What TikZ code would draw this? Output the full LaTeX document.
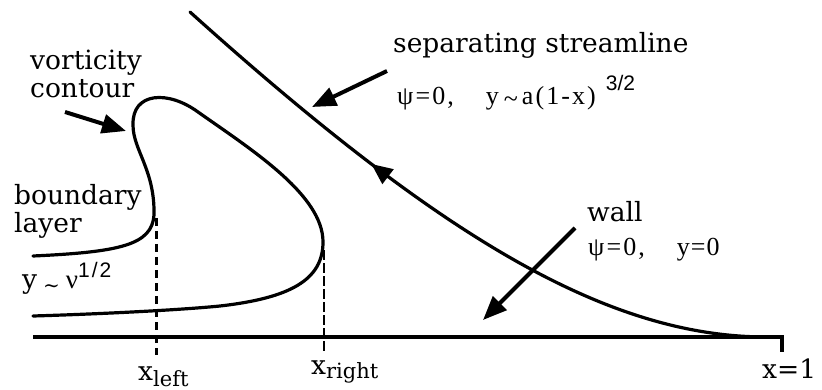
\documentclass[tikz,border=0pt]{standalone}
\usepackage{fontspec}
\setmainfont{DejaVu Serif}
\newfontfamily\fml[LetterSpace=8]{Liberation Serif}
\newfontfamily\supf{Liberation Sans}
\usetikzlibrary{arrows.meta,decorations.markings}
\begin{document}
\begin{tikzpicture}[x=1pt,y=-1pt,
  curve/.style={line width=3.2pt, line cap=round},
  ptr/.style={line width=4pt, -{Triangle[length=24pt,width=19pt]}},
  lbl/.style={inner sep=0pt, anchor=base west, font=\fontsize{26.5}{28}\selectfont},
  fm/.style={inner sep=0pt, anchor=base west, font=\fml\fontsize{26}{28}\selectfont}]
\useasboundingbox (0,0) rectangle (822,390);

% wall
\coordinate (w0) at (33,337);
\coordinate (w1) at (782,337);
\coordinate (w2) at (782,352);
\draw[curve, line cap=butt] (w0) -- (w1) -- (w2);

% separating streamline
\coordinate (s0) at (190,12);
\coordinate (s1) at (767,337);
\draw[curve, postaction={decorate},
  decoration={markings, mark=at position 0.35 with {\arrowreversed{Triangle[length=21pt,width=18pt]}}}]
  (s0) .. controls (440,237) and (607,337) .. (s1);

% vorticity contour
\coordinate (c0) at (33,256);
\coordinate (c1) at (33,316);
\draw[curve] (c0) .. controls (120,252) and (152,245) .. (154,215)
  .. controls (155,170) and (133,150) .. (133,125)
  .. controls (132,92) and (168,90) .. (198,112)
  .. controls (252,150) and (323,195) .. (323,242)
  .. controls (323,280) and (290,298) .. (220,306)
  .. controls (180,310) and (100,314) .. (c1);

% dashed markers
\coordinate (xl0) at (156,218);
\coordinate (xl1) at (156,355);
\draw[line width=3pt, dash pattern=on 8pt off 5pt] (xl0) -- (xl1);
\coordinate (xr0) at (324,250);
\coordinate (xr1) at (324,354);
\draw[line width=1.6pt, dash pattern=on 10pt off 3pt] (xr0) -- (xr1);

% labels
\node[lbl] (vort) at (30,70) {vorticity};
\node[lbl] (cont) at (30,98) {contour};
\node[lbl] (bnd) at (14,205) {boundary};
\node[lbl] (lay) at (14,233) {layer};
\node[lbl] (nu) at (22,288) {y\hspace{6pt}\raisebox{-4pt}{\fontsize{20}{22}\selectfont\textasciitilde}\hspace{6pt}{\fml\fontsize{27}{28}\selectfont ν}{\supf\fontsize{21}{22}\selectfont\raisebox{11pt}{1\hspace{2pt}/\hspace{2pt}2}}};
\node[lbl] (sep) at (393,53) {separating streamline};
\node[fm] (sepf) at (397,105) {ψ=0,\hspace{32pt}y\hspace{5pt}\raisebox{-3pt}{\textasciitilde}\hspace{4pt}a(1-x)\hspace{10pt}{\supf\fontsize{21}{22}\selectfont\raisebox{14pt}{3/2}}};
\node[lbl] (wall) at (587,222) {wall};
\node[fm] (wallf) at (588,255) {ψ=0,\hspace{32pt}y\hspace{1pt}=\hspace{1pt}0};
\node[lbl] (xlab) at (138,380) {x\raisebox{-6pt}{\fontsize{21}{22}\selectfont left}};
\node[lbl] (xrab) at (311,374) {x\raisebox{-4pt}{\fontsize{21}{22}\selectfont right}};
\node[lbl] (x1) at (762,378) {x=1};

% pointer arrows
\coordinate (a1s) at (65,112);
\coordinate (a1e) at (126,131);
\draw[ptr] (a1s) -- (a1e);
\coordinate (a2s) at (387,71);
\coordinate (a2e) at (312,107);
\draw[ptr] (a2s) -- (a2e);
\coordinate (a3s) at (575,228);
\coordinate (a3e) at (483,320);
\draw[ptr] (a3s) -- (a3e);
\end{tikzpicture}
\end{document}
